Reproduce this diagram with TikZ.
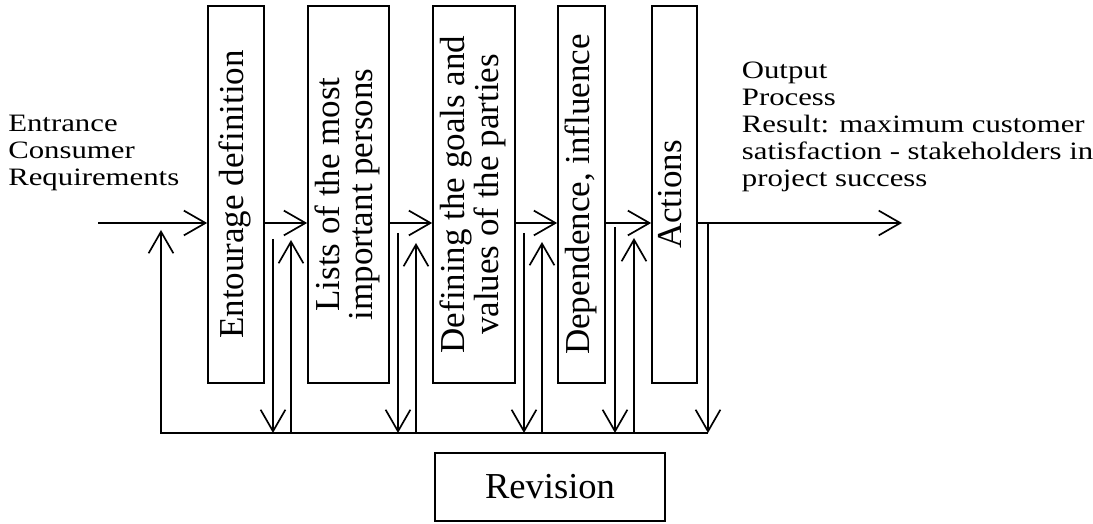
\documentclass[tikz,border=0pt]{standalone}
\usepackage{fontspec}
\setmainfont{Liberation Serif}
\newfontfamily\sidefont[FakeStretch=1.23]{Liberation Serif}
\usetikzlibrary{arrows.meta, positioning, calc}
\newcommand{\vtext}[1]{\rotatebox{90}{\begin{tabular}{@{}c@{}}#1\end{tabular}}}
\tikzset{
  stage/.style={draw=black, line width=1.2pt, inner sep=0pt,
                minimum height=9.425cm, font=\fontsize{24.9}{22.8}\selectfont},
  revbox/.style={draw=black, line width=1.2pt, inner sep=0pt,
                 minimum width=5.75cm, minimum height=1.7cm,
                 font=\fontsize{26}{30}\selectfont},
  sidetext/.style={inner sep=0pt, align=left,
                   font=\sidefont\fontsize{17.8}{19.2}\selectfont},
  link/.style={line width=1.2pt},
  flow/.style={line width=1.2pt, -{Straight Barb[length=0.54cm, width=0.62cm]}},
}

\begin{document}
\begin{tikzpicture}
    \useasboundingbox (0,0) rectangle (27.325,13.1);
    %% stages
    \node[stage, minimum width=1.4cm]   (b1) at (5.9,8.2375)    {\vtext{Entourage definition}};
    \node[stage, minimum width=2.025cm] (b2) at (8.7125,8.2375) {\vtext{Lists of the most\\important persons}};
    \node[stage, minimum width=2.05cm]  (b3) at (11.85,8.2375)  {\vtext{Defining the goals and\\values of the parties}};
    \node[stage, minimum width=1.175cm] (b4) at (14.5375,8.2375) {\vtext{Dependence, influence}};
    \node[stage, minimum width=1.125cm] (b5) at (16.8625,8.2375) {\vtext{Actions}};
    \node[revbox] (rev) at (13.75,0.925) {Revision};
    %% side texts
    \node[sidetext, anchor=north west] (entr) at (0.2,10.225)
      {Entrance\\Consumer\\Requirements};
    \node[sidetext, anchor=north west] (outp) at (18.54,11.56)
      {Output\\Process\\Result: maximum customer\\satisfaction - stakeholders in\\project success};
    %% main flow
    \coordinate (in)  at (2.45,7.525);
    \coordinate (out) at (22.55,7.525);
    \draw[flow] (in) -- (in -| b1.west);
    \draw[flow] (in -| b1.east) -- (in -| b2.west);
    \draw[flow] (in -| b2.east) -- (in -| b3.west);
    \draw[flow] (in -| b3.east) -- (in -| b4.west);
    \draw[flow] (in -| b4.east) -- (in -| b5.west);
    \draw[flow] (in -| b5.east) -- (out);
    %% feedback loop
    \coordinate (fb0) at (4.025,2.275);
    \coordinate (fb5) at (17.7,2.275);
    \coordinate (r0)  at (4.025,7.35);
    \draw[flow] (fb5) -- (fb0) -- (r0);
    \draw[flow] (out -| fb5) -- (fb5);
    \coordinate (d1) at (6.825,7.125);  \coordinate (u1) at (7.275,7.1);
    \coordinate (d2) at (9.95,7.275);   \coordinate (u2) at (10.4,7.025);
    \coordinate (d3) at (13.1,7.275);   \coordinate (u3) at (13.55,7.05);
    \coordinate (d4) at (15.375,7.425); \coordinate (u4) at (15.85,7.15);
    \draw[flow] (d1) -- (d1 |- fb0);
    \draw[flow] (u1 |- fb0) -- (u1);
    \draw[flow] (d2) -- (d2 |- fb0);
    \draw[flow] (u2 |- fb0) -- (u2);
    \draw[flow] (d3) -- (d3 |- fb0);
    \draw[flow] (u3 |- fb0) -- (u3);
    \draw[flow] (d4) -- (d4 |- fb0);
    \draw[flow] (u4 |- fb0) -- (u4);
  \end{tikzpicture}
\end{document}
